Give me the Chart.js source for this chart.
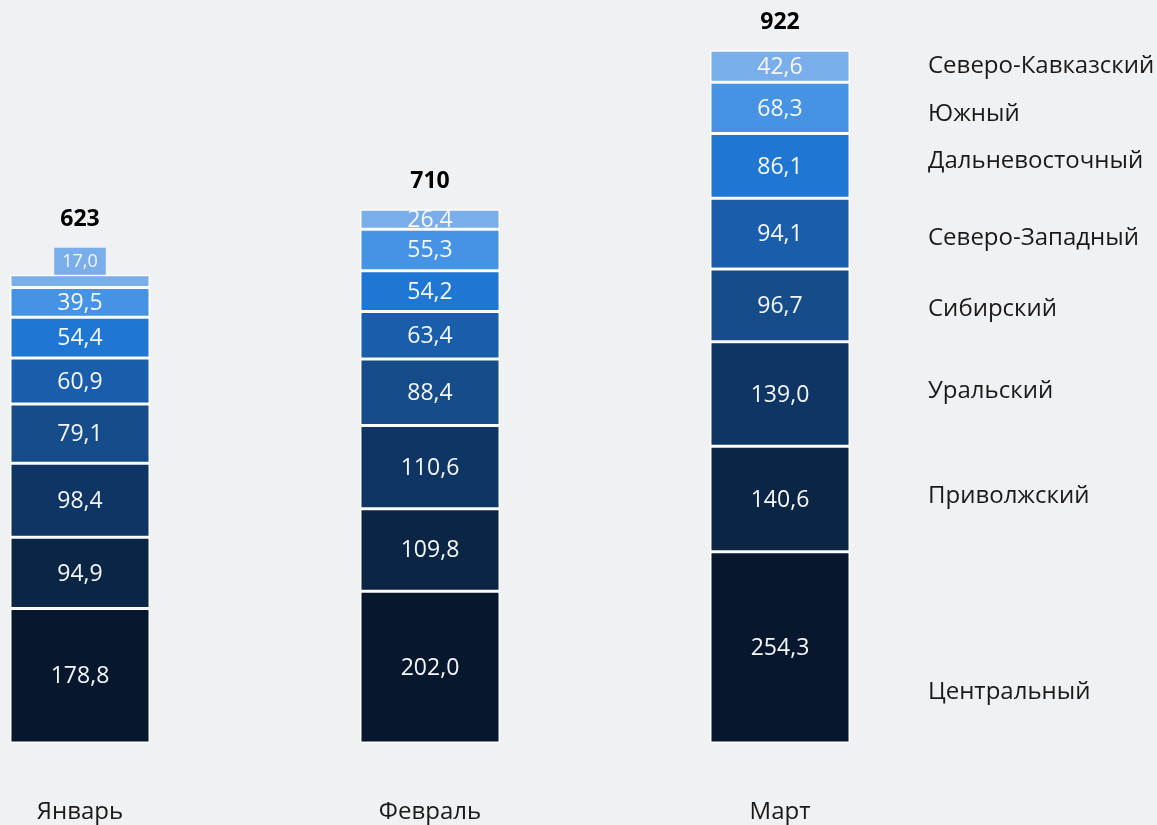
<!DOCTYPE html>
<html lang="ru">
<head>
<meta charset="utf-8">
<script src="https://cdn.jsdelivr.net/npm/chart.js@4"></script>
<style>
  body { margin: 0; background: #f0f1f3; }
  #wrap { width: 1157px; height: 825px; }
</style>
</head>
<body>
<div id="wrap"><canvas id="chart"></canvas></div>
<script>
const months = ["Январь", "Февраль", "Март"];

const regions = ["Центральный", "Приволжский", "Уральский", "Сибирский",
  "Северо-Западный", "Дальневосточный", "Южный", "Северо-Кавказский"];

const central = [178.8, 202.0, 254.3];
const volga = [94.9, 109.8, 140.6];
const ural = [98.4, 110.6, 139.0];
const siberia = [79.1, 88.4, 96.7];
const northWest = [60.9, 63.4, 94.1];
const farEast = [54.4, 54.2, 86.1];
const south = [39.5, 55.3, 68.3];
const northCaucasus = [17.0, 26.4, 42.6];

const seriesValues = [central, volga, ural, siberia, northWest, farEast, south, northCaucasus];
const colors = ["#07182e", "#0b2545", "#0e3563", "#154c89", "#1a5eab", "#1f76d3", "#4692e3", "#7aaeea"];

const FONT = "'Open Sans', 'Noto Sans', sans-serif";

function fmt(v) {
  return v.toFixed(1).replace(".", ",");
}

const labelsPlugin = {
  id: "barLabels",
  afterDatasetsDraw(chart, args, opts) {
    const ctx = chart.ctx;
    const count = chart.data.labels.length;
    const tops = new Array(count).fill(Infinity);
    ctx.save();
    ctx.textAlign = "center";
    ctx.textBaseline = "middle";

    chart.data.datasets.forEach((ds, di) => {
      const meta = chart.getDatasetMeta(di);
      meta.data.forEach((bar, i) => {
        const top = Math.min(bar.y, bar.base);
        const h = Math.abs(bar.base - bar.y);
        const text = fmt(ds.data[i]);
        if (h < 16) {
          // small segment: label in a box above it
          ctx.font = "18px " + FONT;
          const w = ctx.measureText(text).width + 16;
          const bh = 27;
          ctx.fillStyle = ds.backgroundColor;
          ctx.fillRect(bar.x - w / 2, top - bh, w, bh);
          ctx.fillStyle = "#f4f7fb";
          ctx.fillText(text, bar.x, top - bh / 2 + 1);
          tops[i] = Math.min(tops[i], top - bh);
        } else {
          ctx.font = "23px " + FONT;
          ctx.fillStyle = "#f4f7fb";
          ctx.fillText(text, bar.x, top + h / 2 + 1);
          tops[i] = Math.min(tops[i], top);
        }
      });
    });

    // totals
    const firstMeta = chart.getDatasetMeta(0);
    ctx.font = "bold 23px " + FONT;
    ctx.fillStyle = "#000000";
    for (let i = 0; i < count; i++) {
      let sum = 0;
      chart.data.datasets.forEach(ds => { sum += ds.data[i]; });
      ctx.fillText(String(Math.round(sum)), firstMeta.data[i].x, tops[i] - opts.totalGap);
    }

    // region names next to the last bar
    ctx.textAlign = "left";
    ctx.font = "24px " + FONT;
    ctx.fillStyle = "#1a1a1a";
    chart.data.datasets.forEach((ds, di) => {
      const bar = chart.getDatasetMeta(di).data[count - 1];
      const mid = (bar.y + bar.base) / 2 + (opts.nameShift[di] || 0);
      ctx.fillText(ds.label, opts.nameX, mid);
    });
    ctx.restore();
  }
};

new Chart(document.getElementById("chart"), {
  type: "bar",
  data: {
    labels: months,
    datasets: regions.map((name, i) => ({
      label: name,
      data: seriesValues[i],
      backgroundColor: colors[i],
      borderColor: "#ffffff",
      borderWidth: 1.5,
      borderSkipped: false,
      categoryPercentage: 0.4,
      barPercentage: 1,
      clip: false
    }))
  },
  options: {
    responsive: true,
    maintainAspectRatio: false,
    animation: false,
    layout: { padding: { left: 80, right: 377, top: 29, bottom: 0 } },
    scales: {
      x: {
        stacked: true,
        offset: false,
        grid: { display: false, drawTicks: false },
        border: { display: false },
        ticks: { padding: 55, maxRotation: 0, color: "#1a1a1a", font: { family: FONT, size: 24 } },
        afterFit(scale) {
          scale.height = 82;
          scale.paddingLeft = 0;
          scale.paddingRight = 0;
        }
      },
      y: {
        stacked: true,
        display: false,
        min: 0,
        max: 950
      }
    },
    plugins: {
      legend: { display: false },
      tooltip: { enabled: false },
      barLabels: { totalGap: 28, nameX: 928, nameShift: [45, -3, -3, 4, 4, -5, 6, 0] }
    }
  },
  plugins: [labelsPlugin]
});
</script>
</body>
</html>
